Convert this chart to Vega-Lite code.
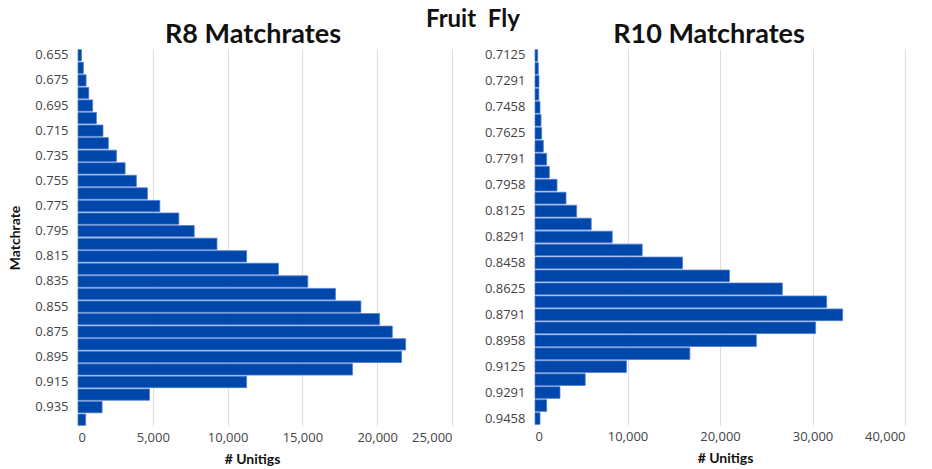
{
  "$schema": "https://vega.github.io/schema/vega-lite/v6.json",
  "background": "white",
  "padding": {"left": 8, "top": 7, "right": 5, "bottom": 2},
  "title": {"text": "Fruit \u00a0Fly", "anchor": "middle", "font": "Lato", "fontSize": 24, "fontWeight": "bold", "color": "#111111", "offset": -11, "dx": 16},
  "spacing": 32,
  "datasets": {
    "r8": [
      {"rate": "0.655", "count": 230},
      {"rate": "0.665", "count": 360},
      {"rate": "0.675", "count": 540},
      {"rate": "0.685", "count": 720},
      {"rate": "0.695", "count": 980},
      {"rate": "0.705", "count": 1230},
      {"rate": "0.715", "count": 1670},
      {"rate": "0.725", "count": 2030},
      {"rate": "0.735", "count": 2570},
      {"rate": "0.745", "count": 3150},
      {"rate": "0.755", "count": 3900},
      {"rate": "0.765", "count": 4640},
      {"rate": "0.775", "count": 5470},
      {"rate": "0.785", "count": 6740},
      {"rate": "0.795", "count": 7770},
      {"rate": "0.805", "count": 9290},
      {"rate": "0.815", "count": 11270},
      {"rate": "0.825", "count": 13400},
      {"rate": "0.835", "count": 15360},
      {"rate": "0.845", "count": 17210},
      {"rate": "0.855", "count": 18910},
      {"rate": "0.865", "count": 20160},
      {"rate": "0.875", "count": 21010},
      {"rate": "0.885", "count": 21900},
      {"rate": "0.895", "count": 21630},
      {"rate": "0.905", "count": 18350},
      {"rate": "0.915", "count": 11270},
      {"rate": "0.925", "count": 4780},
      {"rate": "0.935", "count": 1610},
      {"rate": "0.945", "count": 510}
    ],
    "r10": [
      {"rate": "0.7125", "count": 290},
      {"rate": "0.7208", "count": 360},
      {"rate": "0.7291", "count": 430},
      {"rate": "0.7375", "count": 420},
      {"rate": "0.7458", "count": 540},
      {"rate": "0.7541", "count": 650},
      {"rate": "0.7625", "count": 720},
      {"rate": "0.7708", "count": 900},
      {"rate": "0.7791", "count": 1260},
      {"rate": "0.7875", "count": 1550},
      {"rate": "0.7958", "count": 2380},
      {"rate": "0.8041", "count": 3350},
      {"rate": "0.8125", "count": 4500},
      {"rate": "0.8208", "count": 6080},
      {"rate": "0.8291", "count": 8350},
      {"rate": "0.8375", "count": 11590},
      {"rate": "0.8458", "count": 15950},
      {"rate": "0.8541", "count": 21020},
      {"rate": "0.8625", "count": 26740},
      {"rate": "0.8708", "count": 31530},
      {"rate": "0.8791", "count": 33260},
      {"rate": "0.8875", "count": 30340},
      {"rate": "0.8958", "count": 23930},
      {"rate": "0.9041", "count": 16740},
      {"rate": "0.9125", "count": 9890},
      {"rate": "0.9208", "count": 5430},
      {"rate": "0.9291", "count": 2700},
      {"rate": "0.9375", "count": 1260},
      {"rate": "0.9458", "count": 540}
    ]
  },
  "config": {
    "view": {"stroke": null},
    "axis": {
      "labelFont": "Open Sans",
      "labelFontSize": 13,
      "labelColor": "#444444",
      "titleFont": "Lato",
      "titleFontSize": 14,
      "titleFontWeight": "bold",
      "titleColor": "#111111",
      "domain": false,
      "ticks": false
    },
    "title": {"font": "Lato", "fontSize": 27, "fontWeight": "bold", "color": "#111111"}
  },
  "hconcat": [
    {
      "width": 374,
      "height": 377,
      "title": {"text": "R8 Matchrates", "anchor": "middle", "dx": -12, "offset": 0},
      "data": {"name": "r8"},
      "mark": {"type": "bar", "color": "#0047AB", "stroke": "#4f7ed0", "strokeWidth": 0.8},
      "encoding": {
        "y": {
          "field": "rate", "type": "ordinal", "sort": null,
          "scale": {"paddingInner": 0.1, "paddingOuter": 0.05},
          "axis": {
            "title": "Matchrate",
            "titlePadding": 12,
            "labelPadding": 10,
            "grid": false,
            "values": ["0.655", "0.675", "0.695", "0.715", "0.735", "0.755", "0.775", "0.795", "0.815", "0.835", "0.855", "0.875", "0.895", "0.915", "0.935"]
          }
        },
        "x": {
          "field": "count", "type": "quantitative",
          "scale": {"domain": [0, 25000], "nice": false},
          "axis": {
            "title": "# Unitigs",
            "values": [0, 5000, 10000, 15000, 20000, 25000],
            "format": ",d",
            "grid": true,
            "gridColor": "#dddddd",
            "labelPadding": 5,
            "titlePadding": 8,
            "titleX": 174
          }
        }
      }
    },
    {
      "width": 370,
      "height": 376,
      "title": {"text": "R10 Matchrates", "anchor": "middle", "dx": -11, "offset": 0},
      "data": {"name": "r10"},
      "mark": {"type": "bar", "color": "#0047AB", "stroke": "#4f7ed0", "strokeWidth": 0.8},
      "encoding": {
        "y": {
          "field": "rate", "type": "ordinal", "sort": null,
          "scale": {"paddingInner": 0.1, "paddingOuter": 0.05},
          "axis": {
            "title": null,
            "labelPadding": 10,
            "grid": false,
            "values": ["0.7125", "0.7291", "0.7458", "0.7625", "0.7791", "0.7958", "0.8125", "0.8291", "0.8458", "0.8625", "0.8791", "0.8958", "0.9125", "0.9291", "0.9458"]
          }
        },
        "x": {
          "field": "count", "type": "quantitative",
          "scale": {"domain": [0, 40000], "nice": false},
          "axis": {
            "title": "# Unitigs",
            "values": [0, 10000, 20000, 30000, 40000],
            "format": ",d",
            "grid": true,
            "gridColor": "#dddddd",
            "labelPadding": 5,
            "titlePadding": 8,
            "titleX": 190
          }
        }
      }
    }
  ]
}
